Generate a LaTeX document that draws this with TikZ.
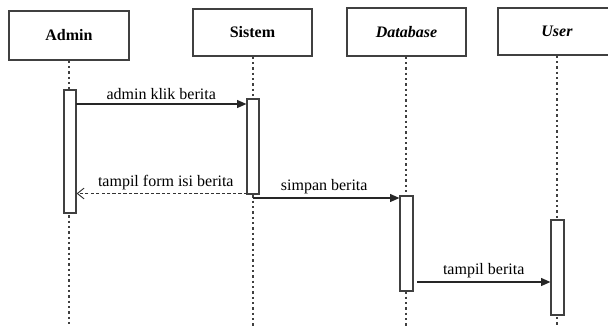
\documentclass[tikz,border=0pt]{standalone}
\usepackage{fontspec}
\setmainfont{Liberation Serif}
\usetikzlibrary{arrows.meta}
\begin{document}
\begin{tikzpicture}[x=0.75pt,y=-0.75pt,
  frame/.style={draw=black!75,line width=1.1pt},
  actor/.style={frame,fill=white,inner sep=0pt,font=\bfseries},
  lifeline/.style={draw=black!75,line width=0.9pt,dash pattern=on 1.8pt off 2.2pt},
  activation/.style={frame,fill=white,line width=0.9pt},
  msg/.style={draw=black!85,line width=0.8pt,-{Triangle[length=7pt,width=6pt]}},
  reply/.style={draw=black!80,line width=0.7pt,dash pattern=on 2.5pt off 1.6pt,-{Straight Barb[length=5pt,width=8pt]}},
  lbl/.style={font=\fontsize{12}{14}\selectfont,inner sep=1pt}]
\useasboundingbox (0,0) rectangle (608,326);
\begin{scope}
\clip (0,0) rectangle (608,326);
% participants
\node[actor,minimum width=120*0.75pt,minimum height=49*0.75pt] (admin) at (69,35.5) {\fontsize{12}{14}\selectfont Admin};
\node[actor,minimum width=119*0.75pt,minimum height=47*0.75pt] (sistem) at (252.5,32.5) {\fontsize{12}{14}\selectfont Sistem};
\node[actor,minimum width=119*0.75pt,minimum height=48*0.75pt] (db) at (406.5,32) {\fontsize{12}{14}\selectfont\itshape Database};
\node[actor,minimum width=118*0.75pt,minimum height=47*0.75pt] (user) at (557,31.5) {\fontsize{12}{14}\selectfont\itshape User};
% lifeline ends
\coordinate (adminEnd) at (69,326);
\coordinate (sistemEnd) at (253,326);
\coordinate (dbEnd) at (406,326);
\coordinate (userEnd) at (557,326);
\draw[lifeline] (admin.south) -- (adminEnd);
\draw[lifeline] (sistem.south -| sistemEnd) -- (sistemEnd);
\draw[lifeline] (db.south -| dbEnd) -- (dbEnd);
\draw[lifeline] (user.south) -- (userEnd);
% activations
\node[activation,minimum width=12*0.75pt,minimum height=123*0.75pt,inner sep=0pt] (actA) at (70,151.5) {};
\node[activation,minimum width=12*0.75pt,minimum height=95*0.75pt,inner sep=0pt] (actS) at (253,146.5) {};
\node[activation,minimum width=13*0.75pt,minimum height=95*0.75pt,inner sep=0pt] (actD) at (406.5,243.5) {};
\node[activation,minimum width=13*0.75pt,minimum height=95*0.75pt,inner sep=0pt] (actU) at (557.5,267.5) {};
% messages
\coordinate (m1s) at (76,104);
\draw[msg] (m1s) -- (m1s -| actS.west) node[lbl,midway,above=2pt] {admin klik berita};
\coordinate (m2s) at (247,193.5);
\draw[reply] (m2s) -- (m2s -| actA.east) node[lbl,midway,above=1pt,xshift=3pt] {tampil form isi berita};
\coordinate (m3s) at (253,198);
\draw[msg] (m3s) -- (m3s -| actD.west) node[lbl,midway,above=2pt,xshift=-1.5pt] {simpan berita};
\coordinate (m4s) at (417,282);
\draw[msg] (m4s) -- (m4s -| actU.west) node[lbl,midway,above=2pt] {tampil berita};
\end{scope}
\end{tikzpicture}
\end{document}
